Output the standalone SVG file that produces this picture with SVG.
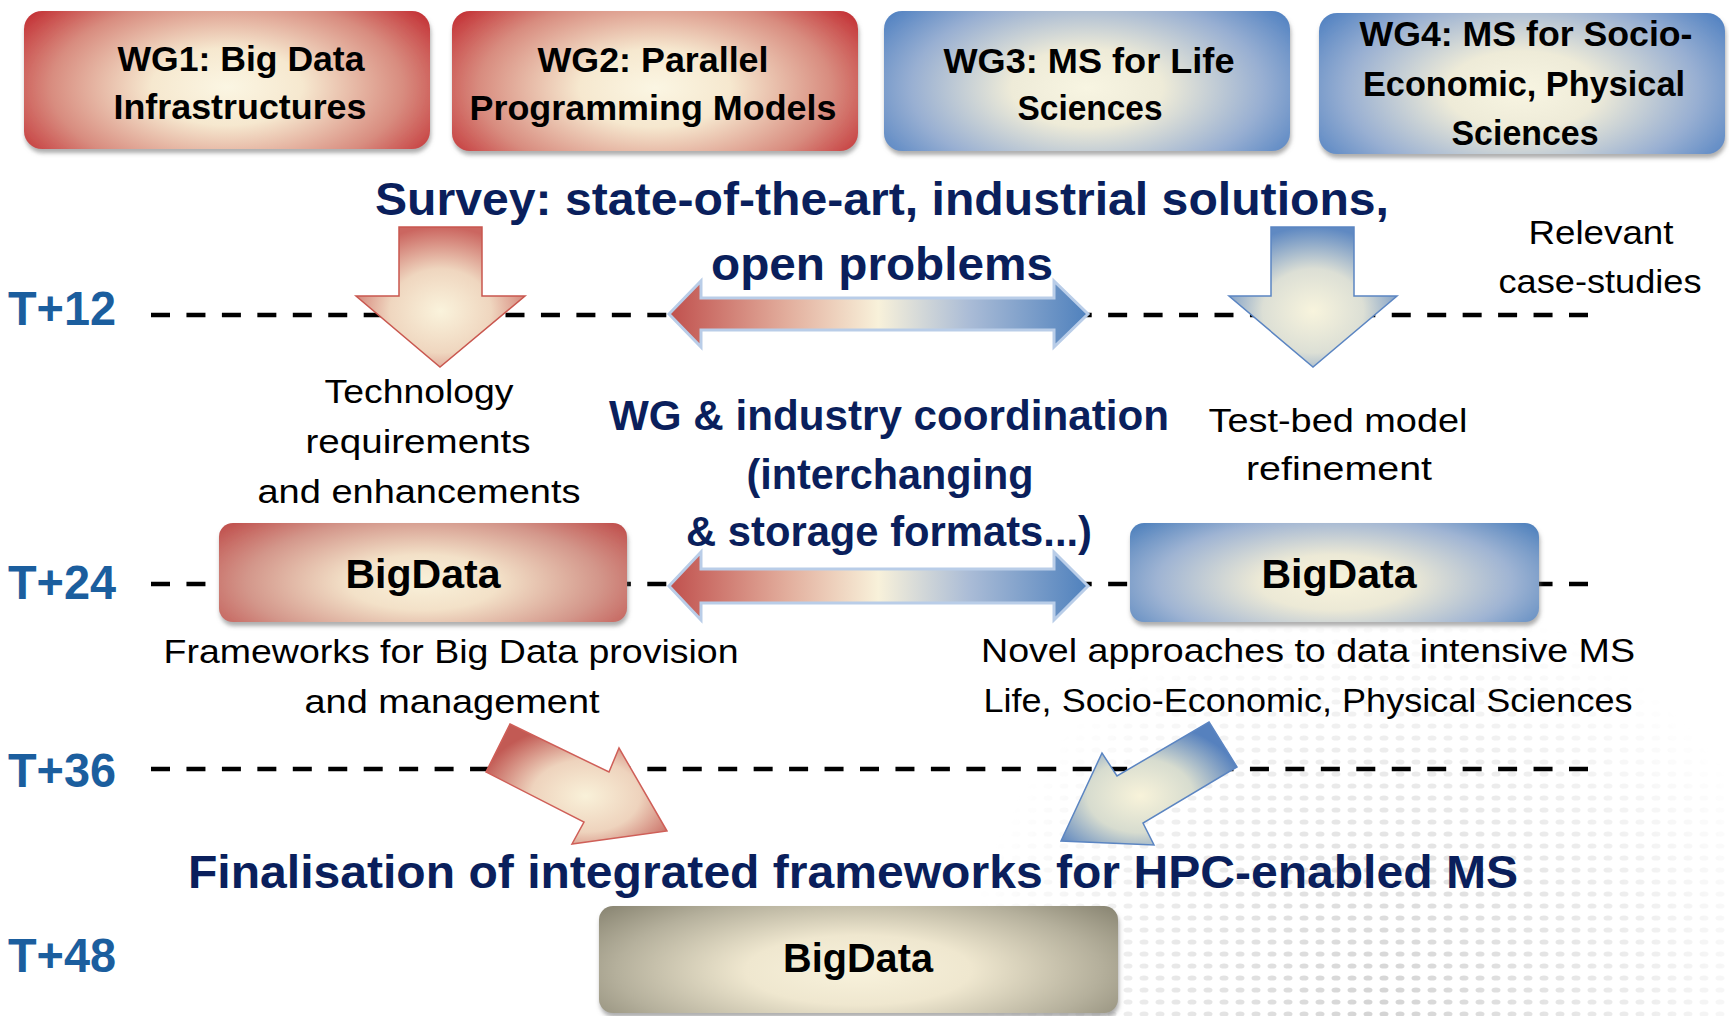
<svg xmlns="http://www.w3.org/2000/svg" width="1729" height="1016" viewBox="0 0 1729 1016">
<style>
.wg{font-family:"Liberation Sans",Arial,sans-serif;font-weight:bold;font-size:35px;fill:#000;text-anchor:middle}
.nv{font-family:"Liberation Sans",Arial,sans-serif;font-weight:bold;fill:#0a1f5c;text-anchor:middle}
.tl{font-family:"Liberation Sans",Arial,sans-serif;font-weight:bold;font-size:48px;fill:#1b5e9e}
.lb{font-family:"Liberation Sans",Arial,sans-serif;font-size:34px;fill:#000;text-anchor:middle}
.bd{font-family:"Liberation Sans",Arial,sans-serif;font-weight:bold;font-size:41px;fill:#000;text-anchor:middle}
.dash{stroke:#000;stroke-width:4.5;stroke-dasharray:19 16.45;fill:none}
</style>
<defs>
<filter id="sh" x="-5%" y="-5%" width="110%" height="120%">
<feDropShadow dx="1" dy="4" stdDeviation="2" flood-color="#777" flood-opacity="0.6"/>
</filter>
<radialGradient id="gRed" cx="0.5" cy="0.55" r="0.62" gradientTransform="translate(0.5,0.55) scale(1,1.5) translate(-0.5,-0.55)">
<stop offset="0" stop-color="#fbf6e3"/><stop offset="0.3" stop-color="#f6e8cf"/><stop offset="0.7" stop-color="#d88c7f"/><stop offset="1" stop-color="#c1272d"/>
</radialGradient>
<radialGradient id="gBlue" cx="0.5" cy="0.55" r="0.62" gradientTransform="translate(0.5,0.55) scale(1,1.5) translate(-0.5,-0.55)">
<stop offset="0" stop-color="#f8f5e2"/><stop offset="0.3" stop-color="#eeebd8"/><stop offset="0.7" stop-color="#98afd2"/><stop offset="1" stop-color="#4a7dc0"/>
</radialGradient>
<radialGradient id="gRed2" cx="0.5" cy="0.6" r="0.62" gradientTransform="translate(0.5,0.6) scale(1,1.5) translate(-0.5,-0.6)">
<stop offset="0" stop-color="#f9f1da"/><stop offset="0.3" stop-color="#f3e1c8"/><stop offset="0.7" stop-color="#d3968a"/><stop offset="1" stop-color="#c0504d"/>
</radialGradient>
<radialGradient id="gBlue2" cx="0.5" cy="0.6" r="0.62" gradientTransform="translate(0.5,0.6) scale(1,1.5) translate(-0.5,-0.6)">
<stop offset="0" stop-color="#f8f3dc"/><stop offset="0.3" stop-color="#ece9d6"/><stop offset="0.7" stop-color="#9fb4d3"/><stop offset="1" stop-color="#4f81bd"/>
</radialGradient>
<radialGradient id="gGray" cx="0.5" cy="0.6" r="0.62" gradientTransform="translate(0.5,0.6) scale(1,1.5) translate(-0.5,-0.6)">
<stop offset="0" stop-color="#f8f2dc"/><stop offset="0.35" stop-color="#efe7cf"/><stop offset="0.75" stop-color="#b5b09c"/><stop offset="1" stop-color="#8c8875"/>
</radialGradient>
<radialGradient id="aRed" cx="0.5" cy="0.6" r="0.6">
<stop offset="0" stop-color="#faf3dc"/><stop offset="0.5" stop-color="#efd6bf"/><stop offset="1" stop-color="#cb6660"/>
</radialGradient>
<radialGradient id="aBlue" cx="0.5" cy="0.6" r="0.6">
<stop offset="0" stop-color="#f8f4dd"/><stop offset="0.5" stop-color="#dcdfd5"/><stop offset="1" stop-color="#5f89c2"/>
</radialGradient>
<radialGradient id="dRed" cx="0.55" cy="0.6" r="0.6">
<stop offset="0" stop-color="#f9f1d9"/><stop offset="0.5" stop-color="#eed3bd"/><stop offset="1" stop-color="#c25a54"/>
</radialGradient>
<radialGradient id="dBlue" cx="0.45" cy="0.6" r="0.6">
<stop offset="0" stop-color="#f8f3da"/><stop offset="0.5" stop-color="#d7dccf"/><stop offset="1" stop-color="#5681be"/>
</radialGradient>
<linearGradient id="hArrow" x1="0" y1="0" x2="1" y2="0">
<stop offset="0" stop-color="#c0504d"/><stop offset="0.28" stop-color="#e2ad9c"/><stop offset="0.5" stop-color="#f8f1da"/><stop offset="0.72" stop-color="#a9bbd6"/><stop offset="1" stop-color="#4f81bd"/>
</linearGradient>
<pattern id="dots" width="16" height="12" patternUnits="userSpaceOnUse">
<ellipse cx="8" cy="6" rx="4.5" ry="2.6" fill="#cfcfcf"/>
</pattern>
<radialGradient id="fade" cx="1380" cy="1010" r="420" gradientUnits="userSpaceOnUse">
<stop offset="0" stop-color="#fff" stop-opacity="0.9"/><stop offset="0.6" stop-color="#fff" stop-opacity="0.4"/><stop offset="1" stop-color="#fff" stop-opacity="0"/>
</radialGradient>
<mask id="dmask"><rect x="950" y="600" width="779" height="416" fill="url(#fade)"/></mask>
</defs>
<rect width="1729" height="1016" fill="#fff"/>
<rect x="950" y="600" width="779" height="416" fill="url(#dots)" mask="url(#dmask)"/>

<g id="timeline">
<line class="dash" x1="151" y1="315" x2="1588" y2="315"/>
<line class="dash" x1="151" y1="584" x2="1588" y2="584"/>
<line class="dash" x1="151" y1="769" x2="1588" y2="769"/>
<text class="tl" x="8" y="325" textLength="108" lengthAdjust="spacingAndGlyphs">T+12</text>
<text class="tl" x="8" y="599" textLength="108" lengthAdjust="spacingAndGlyphs">T+24</text>
<text class="tl" x="8" y="787" textLength="108" lengthAdjust="spacingAndGlyphs">T+36</text>
<text class="tl" x="8" y="972" textLength="108" lengthAdjust="spacingAndGlyphs">T+48</text>
</g>

<g id="connectors">
<polygon points="399,227 482,227 482,296 525,296 440,367 356,296 399,296" fill="url(#aRed)" stroke="#c9574f" stroke-width="1.5"/>
<polygon points="1271,227 1354,227 1354,296 1397,296 1313,367 1229,296 1271,296" fill="url(#aBlue)" stroke="#5b85c2" stroke-width="1.5"/>
<polygon points="669,314 701,281 701,298 1054,298 1054,281 1088,314 1054,347 1054,330 701,330 701,347" fill="url(#hArrow)" stroke="#b9cde8" stroke-width="3"/>
<polygon points="669,586 701,552 701,569 1054,569 1054,552 1088,586 1054,620 1054,603 701,603 701,620" fill="url(#hArrow)" stroke="#b9cde8" stroke-width="3"/>
<polygon points="510,724 609,772 619,748 667,831 572,844 584,822 486,772" fill="url(#dRed)" stroke="#cf5f58" stroke-width="1.5"/>
<polygon points="1209,722 1237,767 1143,823 1154,845 1061,841 1102,753 1117,776" fill="url(#dBlue)" stroke="#5b85c2" stroke-width="1.5"/>
</g>

<g id="wg1">
<rect x="24" y="11" width="406" height="138" rx="18" fill="url(#gRed)" filter="url(#sh)"/>
<text class="wg" x="241" y="71" textLength="247" lengthAdjust="spacingAndGlyphs">WG1: Big Data</text>
<text class="wg" x="240" y="119" textLength="253" lengthAdjust="spacingAndGlyphs">Infrastructures</text>
</g>
<g id="wg2">
<rect x="452" y="11" width="406" height="140" rx="18" fill="url(#gRed)" filter="url(#sh)"/>
<text class="wg" x="653" y="72" textLength="231" lengthAdjust="spacingAndGlyphs">WG2: Parallel</text>
<text class="wg" x="653" y="120" textLength="367" lengthAdjust="spacingAndGlyphs">Programming Models</text>
</g>
<g id="wg3">
<rect x="884" y="11" width="406" height="140" rx="18" fill="url(#gBlue)" filter="url(#sh)"/>
<text class="wg" x="1089" y="73" textLength="291" lengthAdjust="spacingAndGlyphs">WG3: MS for Life</text>
<text class="wg" x="1090" y="120" textLength="145" lengthAdjust="spacingAndGlyphs">Sciences</text>
</g>
<g id="wg4">
<rect x="1319" y="13" width="406" height="141" rx="18" fill="url(#gBlue)" filter="url(#sh)"/>
<text class="wg" x="1526" y="46" textLength="333" lengthAdjust="spacingAndGlyphs">WG4: MS for Socio-</text>
<text class="wg" x="1524" y="96" textLength="322" lengthAdjust="spacingAndGlyphs">Economic, Physical</text>
<text class="wg" x="1525" y="145" textLength="147" lengthAdjust="spacingAndGlyphs">Sciences</text>
</g>

<g id="survey">
<text class="nv" x="882" y="215" font-size="47" textLength="1014" lengthAdjust="spacingAndGlyphs">Survey: state-of-the-art, industrial solutions,</text>
<text class="nv" x="882" y="280" font-size="47" textLength="342" lengthAdjust="spacingAndGlyphs">open problems</text>
</g>
<g id="relevant">
<text class="lb" x="1601" y="244" textLength="145" lengthAdjust="spacingAndGlyphs">Relevant</text>
<text class="lb" x="1600" y="293" textLength="203" lengthAdjust="spacingAndGlyphs">case-studies</text>
</g>
<g id="techreq">
<text class="lb" x="419" y="403" textLength="189" lengthAdjust="spacingAndGlyphs">Technology</text>
<text class="lb" x="418" y="453" textLength="225" lengthAdjust="spacingAndGlyphs">requirements</text>
<text class="lb" x="419" y="503" textLength="323" lengthAdjust="spacingAndGlyphs">and enhancements</text>
</g>
<g id="coordination">
<text class="nv" x="889" y="430" font-size="43" textLength="560" lengthAdjust="spacingAndGlyphs">WG &amp; industry coordination</text>
<text class="nv" x="890" y="489" font-size="43" textLength="287" lengthAdjust="spacingAndGlyphs">(interchanging</text>
<text class="nv" x="889" y="546" font-size="43" textLength="406" lengthAdjust="spacingAndGlyphs">&amp; storage formats...)</text>
</g>
<g id="testbed">
<text class="lb" x="1338" y="432" textLength="259" lengthAdjust="spacingAndGlyphs">Test-bed model</text>
<text class="lb" x="1339" y="480" textLength="186" lengthAdjust="spacingAndGlyphs">refinement</text>
</g>

<g id="bigdata-red">
<rect x="219" y="523" width="408" height="99" rx="14" fill="url(#gRed2)" filter="url(#sh)"/>
<text class="bd" x="423" y="588" textLength="155" lengthAdjust="spacingAndGlyphs">BigData</text>
</g>
<g id="bigdata-blue">
<rect x="1130" y="523" width="409" height="99" rx="14" fill="url(#gBlue2)" filter="url(#sh)"/>
<text class="bd" x="1339" y="588" textLength="155" lengthAdjust="spacingAndGlyphs">BigData</text>
</g>
<g id="frameworks">
<text class="lb" x="451" y="663" textLength="575" lengthAdjust="spacingAndGlyphs">Frameworks for Big Data provision</text>
<text class="lb" x="452" y="713" textLength="295" lengthAdjust="spacingAndGlyphs">and management</text>
</g>
<g id="novel">
<text class="lb" x="1308" y="662" textLength="654" lengthAdjust="spacingAndGlyphs">Novel approaches to data intensive MS</text>
<text class="lb" x="1308" y="712" textLength="649" lengthAdjust="spacingAndGlyphs">Life, Socio-Economic, Physical Sciences</text>
</g>
<g id="finalisation">
<text class="nv" x="853" y="888" font-size="46" textLength="1330" lengthAdjust="spacingAndGlyphs">Finalisation of integrated frameworks for HPC-enabled MS</text>
</g>
<g id="bigdata-final">
<rect x="599" y="906" width="519" height="107" rx="14" fill="url(#gGray)" filter="url(#sh)"/>
<text class="bd" x="858" y="972" textLength="150" lengthAdjust="spacingAndGlyphs">BigData</text>
</g>
</svg>
